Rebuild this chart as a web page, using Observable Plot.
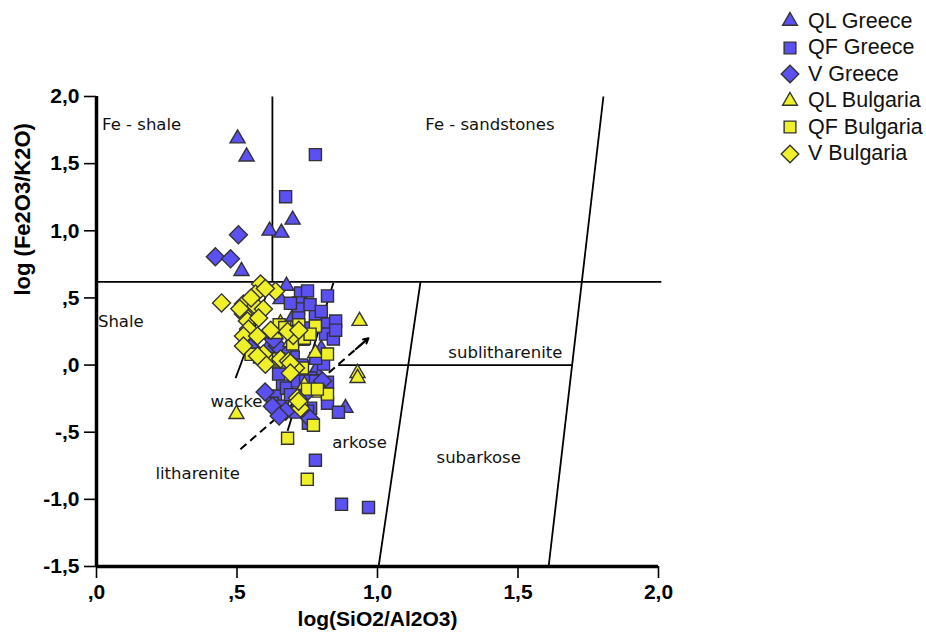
<!DOCTYPE html>
<html><head><meta charset="utf-8">
<script src="https://cdn.jsdelivr.net/npm/d3@7"></script>
<script src="https://cdn.jsdelivr.net/npm/@observablehq/plot@0.6"></script>
<style>
body{margin:0;background:#fff;}
#wrap{position:relative;width:926px;height:634px;}
#legend{position:absolute;left:778px;top:8px;font-family:"Liberation Sans",Arial,sans-serif;font-size:21.5px;color:#111;}
.row{display:flex;align-items:center;height:26.5px;white-space:nowrap;}
.row svg{width:24px;height:24px;margin-right:6px;flex:none;}
svg [aria-label="x-axis tick label"], svg [aria-label="y-axis tick label"]{font-weight:bold;font-size:21px;}
</style></head><body><div id="wrap"></div>
<script>
// ---- data (log(SiO2/Al2O3), log(Fe2O3/K2O)) ----
const qlGreece = [[0.502,1.687],[0.534,1.552],[0.698,1.082],[0.616,1.0],[0.658,0.985],[0.516,0.70],[0.676,0.59],[0.655,0.49],[0.609,0.127],[0.886,-0.32],[0.73,0.18],[0.70,0.36],[0.64,-0.27],[0.78,-0.04],[0.80,0.12]];
const qfGreece = [[0.779,1.567],[0.673,1.254],[0.822,0.515],[0.726,0.537],[0.751,0.552],[0.719,0.463],[0.719,0.418],[0.779,0.381],[0.822,0.306],[0.851,0.328],[0.815,0.231],[0.843,0.194],[0.851,0.260],[0.719,0.351],[0.744,0.276],[0.698,0.179],[0.808,0.007],[0.822,-0.128],[0.708,-0.082],[0.762,-0.097],[0.648,-0.067],[0.662,-0.157],[0.637,-0.231],[0.626,-0.284],[0.655,-0.328],[0.676,-0.172],[0.715,-0.119],[0.744,-0.119],[0.779,-0.119],[0.822,-0.284],[0.762,-0.321],[0.754,-0.433],[0.751,-0.343],[0.662,-0.306],[0.69,0.46],[0.76,0.45],[0.80,0.40],[0.70,0.06],[0.73,0.0],[0.78,0.05],[0.67,0.10],[0.861,-0.351],[0.779,-0.709],[0.872,-1.037],[0.968,-1.06],[0.69,-0.22],[0.71,-0.35]];
const vGreece = [[0.505,0.970],[0.423,0.806],[0.477,0.791],[0.555,0.119],[0.548,0.127],[0.644,0.142],[0.804,-0.119],[0.626,-0.306],[0.673,-0.343],[0.65,-0.38],[0.76,-0.40],[0.63,0.19],[0.74,-0.22],[0.60,-0.20]];
const qlBulgaria = [[0.936,0.328],[0.929,-0.06],[0.929,-0.097],[0.498,-0.366],[0.779,0.09],[0.655,0.31],[0.637,0.23],[0.74,-0.15],[0.69,0.17]];
const qfBulgaria = [[0.68,-0.545],[0.75,-0.851],[0.772,-0.448],[0.822,0.082],[0.698,0.157],[0.733,-0.022],[0.79,-0.194],[0.822,-0.216],[0.751,-0.179],[0.786,-0.179],[0.779,0.29],[0.63,0.03],[0.648,0.045],[0.72,0.30],[0.74,0.20],[0.70,0.25],[0.76,0.23],[0.65,0.30],[0.58,0.06],[0.55,0.08],[0.67,0.28],[0.73,-0.30]];
const vBulgaria = [[0.445,0.463],[0.584,0.604],[0.566,0.53],[0.637,0.55],[0.601,0.57],[0.523,0.455],[0.566,0.44],[0.523,0.381],[0.594,0.418],[0.537,0.328],[0.577,0.351],[0.541,0.269],[0.523,0.216],[0.573,0.216],[0.523,0.142],[0.594,0.082],[0.601,0.007],[0.573,0.067],[0.655,0.045],[0.683,0.03],[0.708,-0.022],[0.690,0.015],[0.715,-0.246],[0.726,-0.321],[0.719,-0.269],[0.70,0.22],[0.68,0.25],[0.72,0.26],[0.62,0.26],[0.55,0.50],[0.51,0.42],[0.69,-0.06]];

const seriesNames = ["QL Greece","QF Greece","V Greece","QL Bulgaria","QF Bulgaria","V Bulgaria"];
const seriesData = [qlGreece,qfGreece,vGreece,qlBulgaria,qfBulgaria,vBulgaria];

// classification boundaries [x1,y1,x2,y2]
const boundaries = [
  [0.626,0.62,0.626,2.0],
  [0,0.62,2.01,0.62],
  [0.86,0,1.692,0],
  [1.004,-1.5,1.153,0.62],
  [1.609,-1.5,1.804,2.0],
  [0.495,-0.097,0.619,0.604],
  [0.68,-0.49,0.843,0.612]
];
const trendArrow = [[0.512,-0.627,0.968,0.2]];

const leftLabels = ["Fe - shale","Shale"];
const leftX = [0.02,0.005];
const leftY = [1.79,0.32];
const midLabels = ["Fe - sandstones","sublitharenite","wacke","arkose","subarkose","litharenite"];
const midX = [1.40,1.455,0.498,0.936,1.36,0.36];
const midY = [1.79,0.09,-0.276,-0.58,-0.69,-0.81];

const xDomain = [0,2];
const yDomain = [-1.5,2];
const xTicks = [0,0.5,1,1.5,2];
const yTicks = [-1.5,-1,-0.5,0,0.5,1,1.5,2];
const xTitle = "log(SiO2/Al2O3)";
const yTitle = "log (Fe2O3/K2O)";

// ---- styling ----
const BLUE = "#5b50f2", YELLOW = "#f0f028", EDGE = "#333";
const fills = [BLUE,BLUE,BLUE,YELLOW,YELLOW,YELLOW];
const diamond = {draw(ctx,size){const r=Math.sqrt(size/2);ctx.moveTo(0,-r);ctx.lineTo(r,0);ctx.lineTo(0,r);ctx.lineTo(-r,0);ctx.closePath();}};
const symbols = ["triangle","square",diamond,"triangle","square",diamond];
const radii = [5.6,6.8,7.2,5.6,6.8,7.2];

const fmt = d => d3.format(".1f")(d).replace("\u2212", "-").replace(".", ",").replace(/^(-?)0,/, "$1,");

const dotMarks = seriesData.map((data,i) => Plot.dot(data, {
  x: d => d[0], y: d => d[1], symbol: () => symbols[i], r: radii[i],
  fill: fills[i], stroke: EDGE, strokeWidth: 1.4
}));

const plot = Plot.plot({
  width: 926, height: 634,
  marginLeft: 96, marginRight: 268, marginTop: 96, marginBottom: 68,
  x: {domain: xDomain},
  y: {domain: yDomain},
  symbol: {type: "identity"},
  style: {fontFamily: "Liberation Sans, Arial, sans-serif", background: "white", overflow: "visible"},
  marks: [
    Plot.link(boundaries, {x1: d=>d[0], y1: d=>d[1], x2: d=>d[2], y2: d=>d[3], stroke: "#000", strokeWidth: 1.8}),
    Plot.link(trendArrow, {x1: d=>d[0], y1: d=>d[1], x2: d=>d[0]+(d[2]-d[0])*0.97, y2: d=>d[1]+(d[3]-d[1])*0.97, stroke: "#000", strokeWidth: 2, strokeDasharray: "8,5"}),
    Plot.arrow(trendArrow, {x1: d=>d[0]+(d[2]-d[0])*0.9, y1: d=>d[1]+(d[3]-d[1])*0.9, x2: d=>d[2], y2: d=>d[3], stroke: "#000", strokeWidth: 2, headLength: 16, headAngle: 55, inset: 0}),
    Plot.text(leftLabels, {x: (d,i)=>leftX[i], y: (d,i)=>leftY[i], text: d=>d, textAnchor: "start", fontSize: 16.5, fontFamily: "DejaVu Sans, sans-serif", fill: "#111"}),
    Plot.text(midLabels, {x: (d,i)=>midX[i], y: (d,i)=>midY[i], text: d=>d, textAnchor: "middle", fontSize: 16.5, fontFamily: "DejaVu Sans, sans-serif", fill: "#111"}),
    ...dotMarks,
    Plot.ruleX([xDomain[0]], {y1: yDomain[0], y2: yDomain[1], stroke: "#000", strokeWidth: 3.5}),
    Plot.ruleY([yDomain[0]], {x1: xDomain[0], x2: xDomain[1], stroke: "#000", strokeWidth: 3.5}),
    Plot.axisX({ticks: xTicks, tickFormat: fmt, tickSize: 12, tickPadding: 6, fontSize: 21, label: null, strokeWidth: 1.6}),
    Plot.axisY({ticks: yTicks, tickFormat: fmt, tickSize: 12, tickPadding: 5, fontSize: 21, label: null, strokeWidth: 1.6}),
    Plot.text([xTitle], {frameAnchor: "bottom", dy: 59, text: d=>d, fontSize: 21, fontWeight: "bold", fill: "#000"}),
    Plot.text([yTitle], {frameAnchor: "left", rotate: -90, dx: -74, dy: -36, text: d=>d, fontSize: 22, fontWeight: "bold", fill: "#000"})
  ]
});
const wrap = document.getElementById("wrap");
wrap.appendChild(plot);

// legend
const legend = document.createElement("div");
legend.id = "legend";
seriesNames.forEach((name,i) => {
  const row = document.createElement("div");
  row.className = "row";
  const s = d3.create("svg").attr("viewBox","-12 -12 24 24");
  const sym = d3.symbol().type(symbols[i]==="triangle"?d3.symbolTriangle:symbols[i]==="square"?d3.symbolSquare:diamond).size(Math.PI*radii[i]*radii[i]*0.95);
  s.append("path").attr("d", sym()).attr("fill", fills[i]).attr("stroke", EDGE).attr("stroke-width",1.4);
  row.appendChild(s.node());
  const t = document.createElement("span");
  t.textContent = name;
  row.appendChild(t);
  legend.appendChild(row);
});
wrap.appendChild(legend);
</script></body></html>
